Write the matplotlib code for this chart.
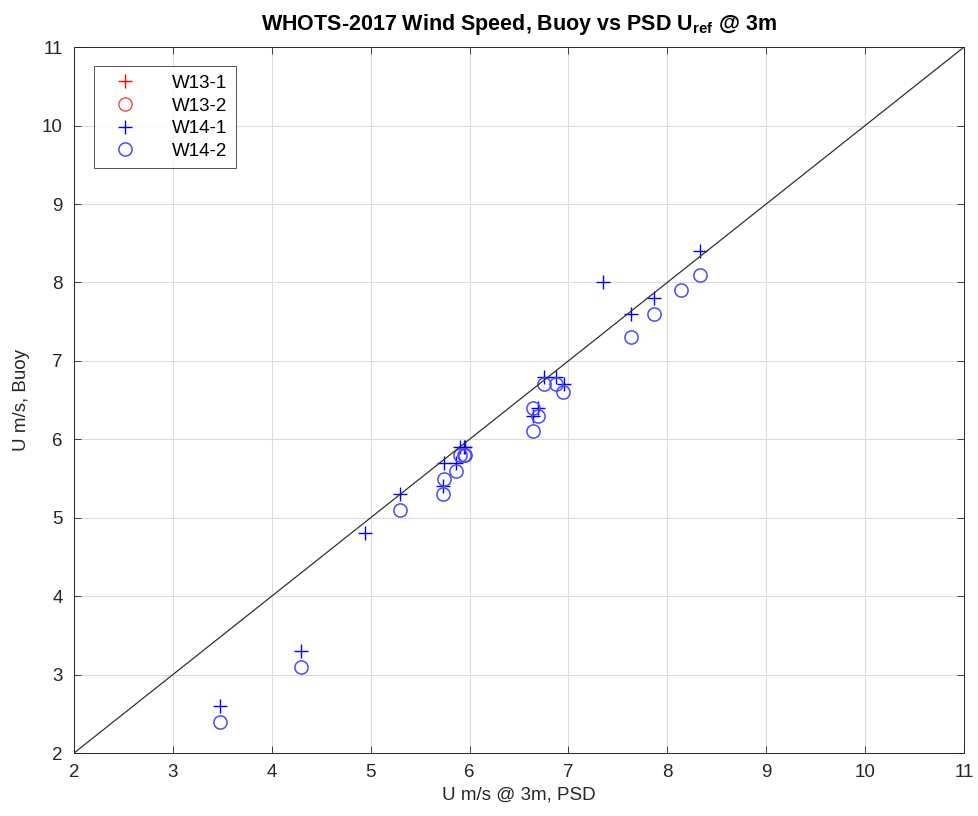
import numpy as np
import matplotlib
matplotlib.use("Agg")
import matplotlib.pyplot as plt

plt.rcParams['font.family'] = ['Liberation Sans', 'DejaVu Sans']
plt.rcParams['mathtext.fontset'] = 'custom'
plt.rcParams['mathtext.rm'] = 'Liberation Sans'
plt.rcParams['mathtext.bf'] = 'Liberation Sans:bold'

# W13 series have no points in this plot (legend only)
w13_1_psd, w13_1_buoy = [], []
w13_2_psd, w13_2_buoy = [], []

# W14-1 (plus)
w14_1_psd = [3.48, 4.30, 4.94, 5.30, 5.73, 5.74, 5.86, 5.90, 5.94, 5.95,
             6.64, 6.69, 6.75, 6.87, 6.96, 7.35, 7.63, 7.87, 8.33]
w14_1_buoy = [2.6, 3.3, 4.8, 5.3, 5.4, 5.7, 5.7, 5.9, 5.9, 5.9,
              6.3, 6.4, 6.8, 6.8, 6.7, 8.0, 7.6, 7.8, 8.4]

# W14-2 (circle)
w14_2_psd = [3.48, 4.30, 5.30, 5.73, 5.74, 5.86, 5.90, 5.94, 5.95,
             6.64, 6.64, 6.69, 6.75, 6.87, 6.95, 7.63, 7.87, 8.14, 8.33]
w14_2_buoy = [2.4, 3.1, 5.1, 5.3, 5.5, 5.6, 5.8, 5.8, 5.8,
              6.4, 6.1, 6.3, 6.7, 6.7, 6.6, 7.3, 7.6, 7.9, 8.1]

lims = [2, 11]

fig = plt.figure(figsize=(9.79, 8.16), dpi=100)
ax = fig.add_axes([0.0756, 0.0772, 0.909, 0.865])

ax.plot(w13_1_psd, w13_1_buoy, '+', color='red', markersize=10, mew=1, label='W13-1')
ax.plot(w13_2_psd, w13_2_buoy, 'o', color='#ff4040', mfc='none', markersize=9.5, mew=1, label='W13-2')
ax.plot(w14_1_psd, w14_1_buoy, '+', color='blue', markersize=10, mew=1, label='W14-1')
ax.plot(w14_2_psd, w14_2_buoy, 'o', color='#4a4aff', mfc='none', markersize=9.5, mew=1.1, label='W14-2')
ax.plot(lims, lims, '-', color='#303030', linewidth=0.9)

ax.set_xlim(lims)
ax.set_ylim(lims)
ax.set_xticks(np.arange(2, 12, 1))
ax.set_yticks(np.arange(2, 12, 1))
ax.grid(True, color='#dcdcdc', linewidth=0.8)
ax.set_axisbelow(True)
ax.tick_params(direction='in', top=True, right=True, labelsize=13.5, length=5,
               colors='#262626', width=0.6, pad=8)
for s in ax.spines.values():
    s.set_linewidth(0.7)
    s.set_color('#262626')

ax.set_xlabel('U m/s @ 3m, PSD', fontsize=13.5, color='#262626', labelpad=4)
ax.set_ylabel('U m/s, Buoy', fontsize=13.5, color='#262626', labelpad=9)
ax.set_title(r'WHOTS-2017 Wind Speed, Buoy vs PSD U$_{\mathbf{ref}}$ @ 3m',
             fontsize=15.5, fontweight='bold', pad=12)

leg = ax.legend(loc='upper left', bbox_to_anchor=(0.0225, 0.973), fontsize=13.5,
                frameon=True, fancybox=False, edgecolor='#262626',
                handlelength=2.4, borderpad=0.45, labelspacing=0.3, handletextpad=1.3,
                borderaxespad=0)
leg.get_frame().set_linewidth(0.7)

fig.savefig('out.png', dpi=100)
